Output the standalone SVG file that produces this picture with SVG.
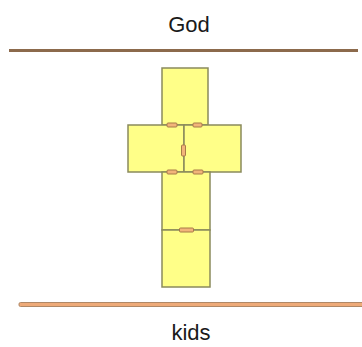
<svg xmlns="http://www.w3.org/2000/svg" width="362" height="347" viewBox="0 0 362 347">
<style>
.blk{fill:#FFFF88;stroke:#8A8A5C;stroke-width:1.5}
.cn{fill:#F2B57A;stroke:#A87A48;stroke-width:1}
.lbl{font-family:"Liberation Sans",Arial,sans-serif;font-size:22px;fill:#1a1a1a;text-anchor:middle}
</style>
<rect width="362" height="347" fill="#fff"/>
<g id="god"><text class="lbl" x="189" y="32">God</text></g>
<g id="kids"><text class="lbl" x="191" y="340">kids</text></g>
<g id="top-line"><rect x="9" y="49" width="349" height="3" fill="#8C6A4C"/></g>
<g id="bottom-line"><rect x="19" y="302.5" width="345" height="4" rx="1.5" fill="#EEAA78" stroke="#B08866" stroke-width="1"/></g>
<g id="b-top"><rect class="blk" x="162" y="68" width="46" height="57"/></g>
<g id="b-left"><rect class="blk" x="128" y="125" width="56" height="47"/></g>
<g id="b-right"><rect class="blk" x="184" y="125" width="57" height="47"/></g>
<g id="b-mid"><rect class="blk" x="162" y="172" width="48" height="58"/></g>
<g id="b-bottom"><rect class="blk" x="162" y="230" width="48" height="57"/></g>
<g id="connectors">
<rect class="cn" x="167" y="123" width="10" height="4" rx="1"/>
<rect class="cn" x="193" y="123" width="9" height="4" rx="1"/>
<rect class="cn" x="181.5" y="145" width="4" height="11" rx="1"/>
<rect class="cn" x="167" y="170" width="10" height="4" rx="1"/>
<rect class="cn" x="193" y="170" width="10" height="4" rx="1"/>
<rect class="cn" x="179.5" y="228" width="14" height="4" rx="1"/>
</g>
</svg>
